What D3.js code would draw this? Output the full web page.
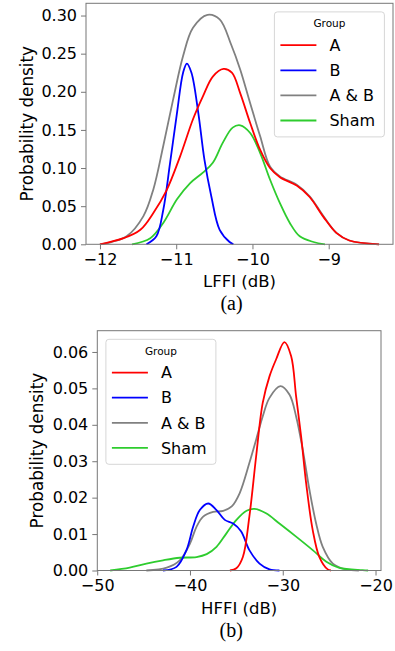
<!DOCTYPE html>
<html>
<head>
<meta charset="utf-8">
<script src="https://cdn.jsdelivr.net/npm/d3@7"></script>
<style>
  body { margin: 0; background: #fff; }
  svg { display: block; font-family: "DejaVu Sans", sans-serif; }
</style>
</head>
<body>
<svg id="chart" width="395" height="651"></svg>
<script>
// Groups in legend order, with their line colours
var groups = ['A', 'B', 'A & B', 'Sham'];
var groupColors = ['#ff0000', '#0000ff', '#808080', '#2ecc2e'];

// Panel (a): LFFI kernel densities, [dB, density]
var lffiA = [[-12.0, 0], [-11.69, 0.008], [-11.47, 0.019], [-11.30, 0.041], [-11.13, 0.070], [-10.95, 0.115],
	[-10.78, 0.164], [-10.65, 0.194], [-10.52, 0.220], [-10.38, 0.230], [-10.27, 0.225], [-10.16, 0.198],
	[-10.03, 0.159], [-9.90, 0.124], [-9.77, 0.100], [-9.64, 0.088], [-9.42, 0.077], [-9.25, 0.062],
	[-9.07, 0.036], [-8.90, 0.015], [-8.73, 0.005], [-8.34, 0]];
var lffiB = [[-11.39, 0], [-11.26, 0.0105], [-11.17, 0.045], [-11.08, 0.107], [-10.99, 0.172], [-10.91, 0.225],
	[-10.86, 0.237], [-10.80, 0.225], [-10.71, 0.172], [-10.63, 0.111], [-10.54, 0.063], [-10.43, 0.019],
	[-10.30, 0.003], [-10.25, 0]];
var lffiAB = [[-12.0, 0], [-11.85, 0.003], [-11.65, 0.0105], [-11.43, 0.037], [-11.30, 0.072], [-11.17, 0.129],
	[-11.04, 0.19], [-10.91, 0.247], [-10.78, 0.284], [-10.59, 0.301], [-10.43, 0.295], [-10.28, 0.262],
	[-10.16, 0.229], [-10.03, 0.185], [-9.90, 0.142], [-9.77, 0.102], [-9.64, 0.089], [-9.42, 0.078],
	[-9.25, 0.063], [-9.07, 0.037], [-8.90, 0.015], [-8.73, 0.005], [-8.34, 0]];
var lffiSham = [[-11.58, 0], [-11.34, 0.008], [-11.17, 0.028], [-10.99, 0.059], [-10.82, 0.080], [-10.65, 0.094],
	[-10.52, 0.107], [-10.39, 0.133], [-10.26, 0.153], [-10.16, 0.156], [-10.03, 0.146], [-9.90, 0.120],
	[-9.77, 0.085], [-9.64, 0.054], [-9.51, 0.028], [-9.38, 0.0105], [-9.20, 0.003], [-9.05, 0]];
var lffiXTicks = [-12, -11, -10, -9];
var lffiYTicks = [0, 0.05, 0.10, 0.15, 0.20, 0.25, 0.30];

// Panel (b): HFFI kernel densities
var hffiA = [[-35.7, 0], [-35.0, 0.0006], [-34.3, 0.0037], [-33.6, 0.0148], [-32.87, 0.0313], [-32.16, 0.046],
	[-31.43, 0.0533], [-30.71, 0.058], [-29.82, 0.0627], [-29.1, 0.0589], [-28.56, 0.0478], [-28.02, 0.0368],
	[-27.48, 0.024], [-26.77, 0.0111], [-26.05, 0.0037], [-25.15, 0.0003], [-24.8, 0]];
var hffiB = [[-42.9, 0], [-41.45, 0.001], [-40.38, 0.0056], [-39.66, 0.012], [-38.94, 0.0166], [-38.04, 0.0184],
	[-37.14, 0.0166], [-36.25, 0.0139], [-35.35, 0.0129], [-34.5, 0.0108], [-33.6, 0.0056], [-32.5, 0.0019],
	[-31.43, 0.0003], [-30.36, 0]];
var hffiAB = [[-44.7, 0], [-42.5, 0.0008], [-41.1, 0.0028], [-40.0, 0.0074], [-39.3, 0.012], [-38.58, 0.0148],
	[-37.5, 0.0161], [-36.42, 0.0164], [-35.5, 0.0176], [-34.65, 0.0212], [-33.6, 0.0295], [-32.87, 0.0359],
	[-32.16, 0.0423], [-31.43, 0.0474], [-30.25, 0.0506], [-29.28, 0.0483], [-28.56, 0.0423], [-27.84, 0.0331],
	[-27.12, 0.0221], [-26.4, 0.0129], [-25.69, 0.0065], [-24.6, 0.0019], [-23.2, 0.0003], [-21.8, 0]];
var hffiSham = [[-48.6, 0], [-46.5, 0.0008], [-44.7, 0.0019], [-42.9, 0.0028], [-41.1, 0.0035], [-39.3, 0.0037],
	[-38.2, 0.0045], [-37.14, 0.0065], [-36.07, 0.0102], [-34.99, 0.0139], [-33.9, 0.0164], [-33.05, 0.0169],
	[-31.8, 0.0157], [-30.36, 0.0129], [-28.56, 0.0093], [-26.77, 0.0056], [-25.3, 0.0024], [-23.9, 0.0007],
	[-21.4, 0.0001], [-20.8, 0]];
var hffiXTicks = [-50, -40, -30, -20];
var hffiYTicks = [0, 0.01, 0.02, 0.03, 0.04, 0.05, 0.06];

var SPINE = '#777';
var LEGEND_INSET = 8.6;
var LEGEND_W = 110;
var LEGEND_H = 125;

var svg = d3.select('#chart');

var panels = [
	{ box: { left: 86, right: 393, top: 3.3, bottom: 244.3 }, series: [lffiA, lffiB, lffiAB, lffiSham],
		xTicks: lffiXTicks, yTicks: lffiYTicks, xLabel: 'LFFI (dB)', caption: '(a)', yLabelX: 33,
		legendSide: 'right' },
	{ box: { left: 97.3, right: 381, top: 330.7, bottom: 570.5 }, series: [hffiA, hffiB, hffiAB, hffiSham],
		xTicks: hffiXTicks, yTicks: hffiYTicks, xLabel: 'HFFI (dB)', caption: '(b)', yLabelX: 43,
		legendSide: 'left' }
];

panels.forEach(drawPanel);

function drawPanel(p) {
	var b = p.box;
	var all = d3.merge(p.series);
	// matplotlib style 5% margin on x, zero-based y with 5% headroom
	var ext = d3.extent(all, function (d) { return d[0]; });
	var pad = (ext[1] - ext[0]) * 0.05;
	var x = d3.scaleLinear().domain([ext[0] - pad, ext[1] + pad]).range([b.left, b.right]);
	var y = d3.scaleLinear().domain([0, d3.max(all, function (d) { return d[1]; }) * 1.05]).range([b.bottom, b.top]);

	var g = svg.append('g');

	var line = d3.line()
		.x(function (d) { return x(d[0]); })
		.y(function (d) { return Math.min(y(d[1]), b.bottom); })
		.curve(d3.curveCatmullRom.alpha(0.5));

	// draw A & B first so the other groups sit on top of it
	[2, 3, 1, 0].forEach(function (i) {
		g.append('path').attr('d', line(p.series[i]))
			.attr('fill', 'none').attr('stroke', groupColors[i]).attr('stroke-width', 1.8);
	});

	var xAxis = g.append('g').attr('transform', 'translate(0,' + b.bottom + ')')
		.call(d3.axisBottom(x).tickValues(p.xTicks).tickFormat(d3.format('d')).tickSize(5).tickPadding(4));
	var yAxis = g.append('g').attr('transform', 'translate(' + b.left + ',0)')
		.call(d3.axisLeft(y).tickValues(p.yTicks).tickFormat(d3.format('.2f')).tickSize(5).tickPadding(4));
	[xAxis, yAxis].forEach(function (a) {
		a.select('.domain').remove();
		a.selectAll('line').attr('stroke', SPINE);
		a.selectAll('text').attr('font-size', 16).attr('font-family', '"DejaVu Sans", sans-serif').attr('fill', '#000');
	});

	g.append('rect').attr('x', b.left).attr('y', b.top)
		.attr('width', b.right - b.left).attr('height', b.bottom - b.top)
		.attr('fill', 'none').attr('stroke', SPINE).attr('stroke-width', 1);

	var cx = (b.left + b.right) / 2;
	g.append('text').attr('x', cx).attr('y', b.bottom + 43).attr('text-anchor', 'middle')
		.attr('font-size', 16.5).text(p.xLabel);
	g.append('text').attr('x', cx - 8).attr('y', b.bottom + 66).attr('text-anchor', 'middle')
		.attr('font-family', '"Liberation Serif", "Times New Roman", serif').attr('font-size', 20).text(p.caption);
	g.append('text').attr('transform', 'translate(' + p.yLabelX + ',' + ((b.top + b.bottom) / 2) + ') rotate(-90)')
		.attr('text-anchor', 'middle').attr('font-size', 16.8).text('Probability density');

	// legend box
	var lx = p.legendSide === 'right' ? b.right - LEGEND_INSET - LEGEND_W : b.left + LEGEND_INSET;
	var ly = b.top + LEGEND_INSET;
	var lg = g.append('g').attr('transform', 'translate(' + lx + ',' + ly + ')');
	lg.append('rect').attr('width', LEGEND_W).attr('height', LEGEND_H).attr('rx', 3)
		.attr('fill', '#fff').attr('fill-opacity', 0.85).attr('stroke', '#d6d6d6').attr('stroke-width', 1);
	lg.append('text').attr('x', 55).attr('y', 15.5).attr('text-anchor', 'middle').attr('font-size', 10.5).text('Group');
	var items = lg.selectAll('.item').data(groups).enter().append('g').attr('class', 'item')
		.attr('transform', function (d, i) { return 'translate(0,' + (33.3 + i * 25.1) + ')'; });
	items.append('line').attr('x1', 6).attr('x2', 42).attr('stroke-width', 1.8)
		.attr('stroke', function (d, i) { return groupColors[i]; });
	items.append('text').attr('x', 55).attr('dy', '0.36em').attr('font-size', 16).text(function (d) { return d; });
}
</script>
</body>
</html>
